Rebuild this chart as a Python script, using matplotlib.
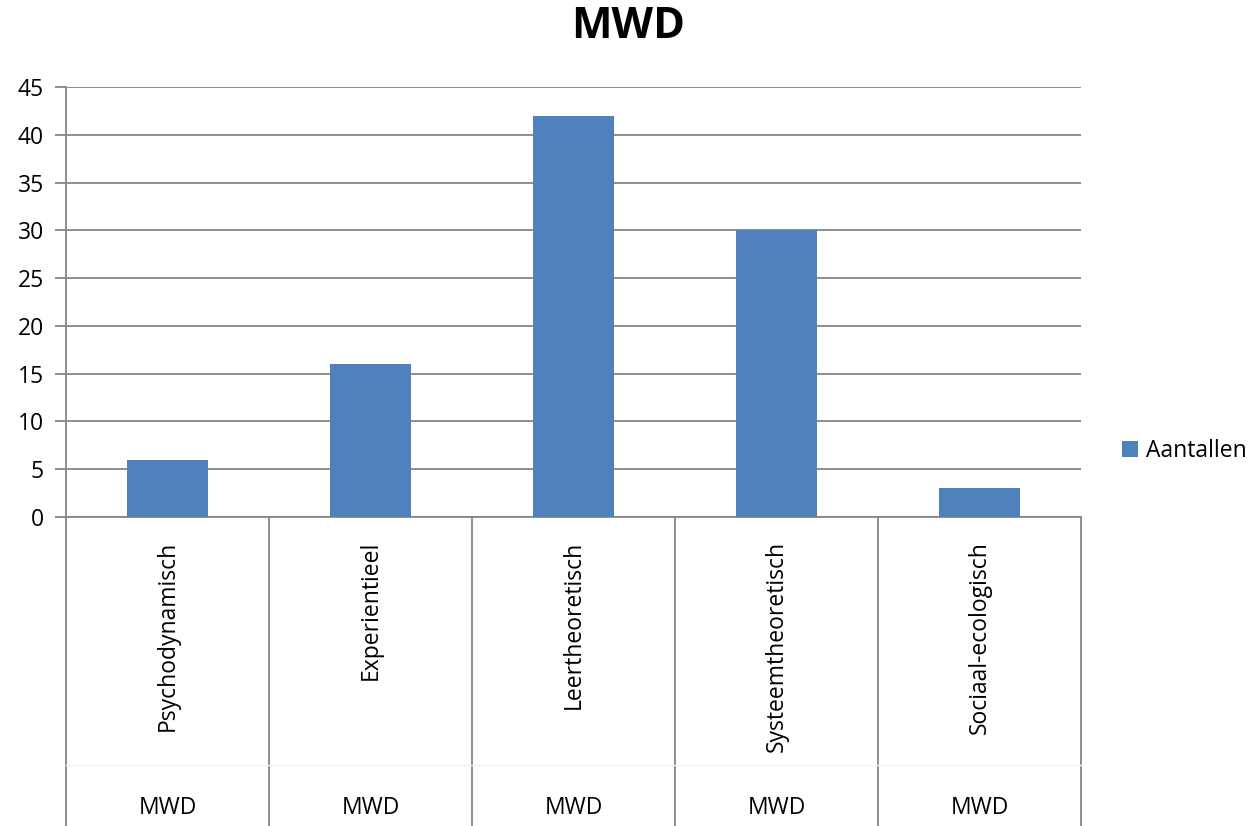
import numpy as np
import matplotlib.pyplot as plt
import matplotlib.transforms as mtransforms

plt.rcParams['font.family'] = ['Open Sans', 'DejaVu Sans']

# data
categories = ['Psychodynamisch', 'Experientieel', 'Leertheoretisch',
              'Systeemtheoretisch', 'Sociaal-ecologisch']
group = 'MWD'
aantallen = [6, 16, 42, 30, 3]
series_name = 'Aantallen'

bar_color = '#4F81BD'
line_color = '#868686'

fig = plt.figure(figsize=(12.57, 8.26), dpi=100)
ax = fig.add_axes([66/1257, 1 - 517/826, (1081 - 66)/1257, (517 - 87)/826])

x = np.arange(len(categories))
ax.bar(x, aantallen, width=0.4, color=bar_color, label=series_name, zorder=3)

ax.set_xlim(-0.5, len(categories) - 0.5)
ax.set_ylim(0, 45)
ax.set_yticks(np.arange(0, 46, 5))
ax.grid(axis='y', color=line_color, linewidth=1.3, zorder=0)
ax.set_axisbelow(True)

for side in ['top', 'right']:
    ax.spines[side].set_visible(False)
ax.spines['left'].set_color(line_color)
ax.spines['left'].set_linewidth(1.3)
ax.spines['bottom'].set_color(line_color)
ax.spines['bottom'].set_linewidth(1.3)

ax.tick_params(axis='y', length=8, width=1.3, color=line_color, labelsize=16.5, pad=8)
ax.tick_params(axis='x', bottom=False, labelbottom=False)

# multi level category axis drawn by hand
trans = mtransforms.blended_transform_factory(ax.transData, ax.transAxes)
for b in np.arange(-0.5, len(categories), 1.0):
    ax.plot([b, b], [0, -0.72], transform=trans, color=line_color,
            linewidth=1.3, clip_on=False)
ax.plot([-0.5, len(categories) - 0.5], [-0.577, -0.577], transform=trans,
        color='#f3f3f3', linewidth=1, clip_on=False)
for i, c in enumerate(categories):
    ax.text(i, -0.055, c, transform=trans, rotation=90, ha='center', va='top',
            fontsize=16.5)
    ax.text(i, -0.677, group, transform=trans, ha='center', va='center',
            fontsize=16.5)

fig.text(0.5, 1 - 27/826, 'MWD', fontsize=31, fontweight='bold',
         ha='center', va='center')

leg = ax.legend(loc='center left', bbox_to_anchor=(1.02, 0.154), frameon=False,
                fontsize=16.5, handlelength=0.7, handleheight=0.7, handletextpad=0.35)

plt.savefig('out.png', dpi=100)
